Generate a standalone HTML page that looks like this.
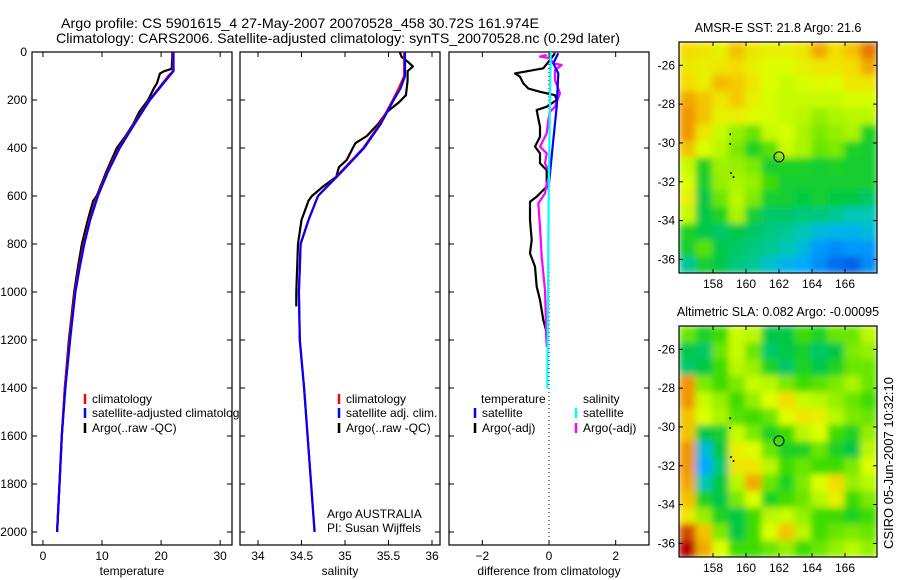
<!DOCTYPE html>
<html><head><meta charset="utf-8"><style>
body{margin:0;background:#fff}
svg{display:block;font-family:"Liberation Sans",sans-serif}
text{fill:#000}
</style></head><body>
<svg id="fig" width="900" height="580" viewBox="0 0 900 580" xmlns="http://www.w3.org/2000/svg">
<defs>
<filter id="smooth" x="0" y="0" width="1" height="1"><feGaussianBlur stdDeviation="3.5" edgeMode="duplicate"/></filter>
<clipPath id="clipSst"><rect x="679" y="42" width="198" height="231"/></clipPath>
<clipPath id="clipSla"><rect x="679" y="326" width="198" height="231"/></clipPath>
</defs>
<text x="61" y="28" font-size="14" textLength="478" lengthAdjust="spacingAndGlyphs">Argo profile: CS 5901615_4 27-May-2007 20070528_458 30.72S 161.974E</text>
<text x="56" y="43" font-size="14" textLength="564" lengthAdjust="spacingAndGlyphs">Climatology: CARS2006. Satellite-adjusted climatology: synTS_20070528.nc (0.29d later)</text>
<g id="plots"></g>
<text transform="translate(893,463) rotate(-90)" font-size="13" text-anchor="middle">CSIRO 05-Jun-2007 10:32:10</text>
</svg>
<script>
// ---------- data ----------
const depthTicks=[0,200,400,600,800,1000,1200,1400,1600,1800,2000];
const tempTicks=[0,10,20,30];
const salTicks=[34,34.5,35,35.5,36];
const diffTicks=[-2,0,2];
const argoTempDepth=[0,20,70,80,90,130,150,200,250,300,350,400,500,600,620,700,800,900,1000,1200,1400,1600,1800,2000];
const argoTemp=[21.9,21.9,21.8,20.5,19.8,19.3,18.8,17.8,16.3,15.3,14.0,12.5,10.7,9.1,8.5,7.6,6.6,5.9,5.3,4.4,3.7,3.2,2.8,2.4];
const climDepth=[0,80,100,200,300,400,500,600,700,800,900,1000,1200,1400,1600,1800,2000];
const climTemp=[22,22,21.2,18,15.4,12.9,10.9,9.2,7.9,6.9,6.1,5.4,4.5,3.7,3.2,2.8,2.4];
const satTemp=[22.1,22.1,21.4,18.1,15.5,13.0,11.0,9.3,8.0,7.0,6.2,5.5,4.6,3.8,3.2,2.8,2.4];
const argoSalDepth=[0,20,40,60,80,120,180,210,250,300,350,380,400,450,480,520,560,600,620,700,800,1000,1060];
const argoSal=[35.63,35.65,35.72,35.78,35.72,35.72,35.7,35.62,35.48,35.38,35.25,35.12,35.09,35.02,34.93,34.9,34.75,34.62,34.58,34.5,34.46,34.44,34.44];
const climSal=[35.68,35.68,35.62,35.55,35.4,35.21,34.95,34.69,34.58,34.49,34.48,34.47,34.48,34.53,34.57,34.61,34.65];
const satSal=[35.69,35.69,35.64,35.56,35.41,35.22,34.96,34.69,34.58,34.49,34.48,34.47,34.48,34.53,34.57,34.61,34.65];
const climSalDepth=[0,100,150,200,300,400,500,600,700,800,900,1000,1200,1400,1600,1800,2000];
const dTempArgoDepth=[5,33,68,89,103,131,152,166,180,200,228,242,277,311,353,394,422,464,492,561,603,624,700,783,839,894,978,1033,1117,1158,1214];
const dTempArgo=[0.18,0.03,-0.17,-1.02,-0.87,-0.77,-0.62,-0.27,0.18,0.23,-0.07,-0.37,-0.32,-0.27,-0.27,-0.42,-0.27,-0.27,-0.07,-0.07,-0.37,-0.57,-0.57,-0.52,-0.57,-0.42,-0.37,-0.27,-0.17,-0.09,-0.07];
const dSalArgoDepth=[12,19,26,47,54,75,117,172,228,249,283,339,394,422,464,506,547,589,631,728,853,992,1131,1228];
const dSalArgo=[-0.07,-0.27,0.03,0.13,0.38,0.18,0.18,0.33,0.18,0.03,-0.02,-0.07,-0.27,-0.07,-0.12,0.03,-0.07,-0.12,-0.32,-0.27,-0.22,-0.12,-0.09,-0.07];
const dTempSatDepth=[5,47,89,228,367,506,575];
const dTempSat=[0.28,0.13,0.28,0.23,0.13,0.03,-0.02];
const dSalSatDepth=[0,200,600,1000,1400];
const dSalSat=[0.05,0.03,-0.01,-0.03,-0.05];
const mapLonTicks=[158,160,162,164,166];
const mapLatTicks=[-26,-28,-30,-32,-34,-36];
const sstGrid=[
[0.82,0.8,0.78,0.85,0.8,0.78,0.78,0.8,0.88,0.82,0.85,0.92],
[0.8,0.78,0.8,0.82,0.78,0.75,0.75,0.78,0.8,0.8,0.82,0.88],
[0.82,0.78,0.86,0.84,0.8,0.75,0.72,0.74,0.76,0.75,0.8,0.8],
[0.88,0.85,0.8,0.84,0.78,0.74,0.72,0.72,0.72,0.72,0.74,0.74],
[0.9,0.85,0.78,0.78,0.76,0.74,0.72,0.7,0.65,0.68,0.7,0.7],
[0.9,0.8,0.72,0.65,0.6,0.72,0.74,0.68,0.62,0.65,0.68,0.5],
[0.85,0.75,0.7,0.62,0.5,0.58,0.72,0.68,0.6,0.62,0.5,0.48],
[0.72,0.5,0.66,0.65,0.62,0.48,0.5,0.5,0.48,0.5,0.48,0.48],
[0.75,0.48,0.65,0.68,0.65,0.55,0.48,0.48,0.48,0.48,0.48,0.48],
[0.78,0.45,0.6,0.7,0.62,0.48,0.48,0.46,0.48,0.46,0.45,0.42],
[0.72,0.45,0.5,0.68,0.48,0.42,0.42,0.4,0.4,0.38,0.35,0.35],
[0.5,0.45,0.42,0.45,0.42,0.4,0.38,0.35,0.3,0.28,0.28,0.3],
[0.48,0.58,0.45,0.42,0.4,0.38,0.35,0.3,0.22,0.2,0.22,0.22],
[0.38,0.48,0.45,0.4,0.38,0.32,0.28,0.25,0.2,0.15,0.12,0.2]];
const slaGrid=[
[0.6,0.5,0.55,0.72,0.7,0.45,0.45,0.55,0.5,0.6,0.6,0.7],
[0.45,0.42,0.6,0.72,0.6,0.42,0.45,0.48,0.42,0.45,0.62,0.65],
[0.42,0.45,0.55,0.7,0.65,0.5,0.42,0.5,0.45,0.5,0.6,0.6],
[0.9,0.62,0.55,0.62,0.72,0.7,0.62,0.55,0.58,0.62,0.68,0.6],
[0.9,0.72,0.65,0.55,0.65,0.75,0.82,0.72,0.7,0.65,0.6,0.55],
[0.85,0.75,0.68,0.58,0.55,0.6,0.75,0.8,0.78,0.7,0.62,0.6],
[0.85,0.45,0.48,0.72,0.62,0.5,0.55,0.7,0.75,0.55,0.5,0.65],
[0.9,0.3,0.45,0.78,0.75,0.6,0.5,0.5,0.6,0.5,0.45,0.7],
[0.9,0.25,0.4,0.8,0.8,0.7,0.55,0.6,0.55,0.55,0.62,0.75],
[0.88,0.35,0.45,0.7,0.88,0.6,0.5,0.62,0.75,0.82,0.65,0.7],
[0.85,0.5,0.45,0.62,0.75,0.5,0.55,0.6,0.7,0.78,0.55,0.62],
[0.8,0.65,0.5,0.45,0.55,0.7,0.72,0.65,0.55,0.55,0.5,0.55],
[0.95,0.85,0.62,0.45,0.55,0.75,0.85,0.7,0.55,0.6,0.62,0.6],
[1.0,0.88,0.75,0.55,0.55,0.6,0.65,0.55,0.6,0.65,0.7,0.65]];
const floatLon=162, floatLat=-30.72;

// ---------- helpers ----------
const NS='http://www.w3.org/2000/svg';
const root=document.getElementById('plots');
function mk(tag,attrs,parent){const e=document.createElementNS(NS,tag);for(const k in attrs)e.setAttribute(k,attrs[k]);(parent||root).appendChild(e);return e;}
function txt(x,y,s,size,anchor,parent){const t=mk('text',{x:x,y:y,'font-size':size,'text-anchor':anchor||'start'},parent);t.textContent=s;return t;}
const Y0=52,Y1=545;const yScale=d=>52+d*0.24;

function panel(name,x0,x1,vmin,vmax,ticks,xlabel,showY){
  const g=mk('g',{});
  
  
  const xs=v=>x0+(v-vmin)/(vmax-vmin)*(x1-x0);
  const fr=mk('rect',{x:x0,y:Y0,width:x1-x0,height:Y1-Y0,fill:'#fff',stroke:'#000','stroke-width':1.2},g);
  
  
  ticks.forEach(v=>{const x=xs(v);
    mk('line',{x1:x,x2:x,y1:Y1,y2:Y1-5,stroke:'#000'},g);mk('line',{x1:x,x2:x,y1:Y0,y2:Y0+5,stroke:'#000'},g);
    const t=txt(x,560,String(v).replace('-','\u2212'),12,'middle',g);
    
    });
  depthTicks.forEach(d=>{const y=yScale(d);
    mk('line',{x1:x0,x2:x0+5,y1:y,y2:y,stroke:'#000'},g);mk('line',{x1:x1,x2:x1-5,y1:y,y2:y,stroke:'#000'},g);
    if(showY){const t=txt(27,y+4,String(d),12,'end',g);
      
      }});
  const xl=txt((x0+x1)/2,575,xlabel,12,'middle',g);
  
  
  return {g,xs};
}
function line(p,depths,vals,color,name,w){
  const pts=depths.map((d,i)=>p.xs(vals[i]).toFixed(1)+','+yScale(d).toFixed(1)).join(' ');
  const l=mk('polyline',{points:pts,fill:'none',stroke:color,'stroke-width':w||2.2,'stroke-linejoin':'round'},p.g);
  
  
}
function legend(g,x,y,color,label,name){
  mk('line',{x1:x,x2:x,y1:y-9,y2:y+1,stroke:color,'stroke-width':2.5},g);
  const t=txt(x+7,y,label,12,'start',g);
  
  
}

// ---------- temperature panel ----------
const p1=panel('temperature-panel',32,232,-1.85,32.0,tempTicks,'temperature',true);
line(p1,argoTempDepth,argoTemp,'#000','argo-temperature-line');
line(p1,climDepth,climTemp,'#f00','climatology-temperature-line');
line(p1,climDepth,satTemp,'#00f','satellite-temperature-line');
legend(p1.g,85,403,'#f00','climatology','legend-climatology');
legend(p1.g,85,417,'#00f','satellite-adjusted climatology','legend-satellite');
legend(p1.g,85,432,'#000','Argo(..raw -QC)','legend-argo');

// ---------- salinity panel ----------
const p2=panel('salinity-panel',240,440,33.793,36.092,salTicks,'salinity',false);
line(p2,argoSalDepth,argoSal,'#000','argo-salinity-line');
line(p2,climSalDepth,climSal,'#f00','climatology-salinity-line');
line(p2,climSalDepth,satSal,'#00f','satellite-salinity-line');
legend(p2.g,339,403,'#f00','climatology','legend-climatology');
legend(p2.g,339,417,'#00f','satellite adj. clim.','legend-satellite');
legend(p2.g,339,432,'#000','Argo(..raw -QC)','legend-argo');
const a1=txt(327,518,'Argo AUSTRALIA',12,'start',p2.g);


const a2=txt(327,532,'PI: Susan Wijffels',12,'start',p2.g);



// ---------- difference panel ----------
const p3=panel('difference-panel',449,649,-3.0,3.0,diffTicks,'difference from climatology',false);
mk('line',{x1:p3.xs(0),x2:p3.xs(0),y1:Y0,y2:Y1,stroke:'#000','stroke-dasharray':'1,3'},p3.g);
line(p3,dTempArgoDepth,dTempArgo,'#000','argo-temperature-diff-line');
line(p3,dSalArgoDepth,dSalArgo,'#f0f','argo-salinity-diff-line');
line(p3,dTempSatDepth,dTempSat,'#00f','satellite-temperature-diff-line');
line(p3,dSalSatDepth,dSalSat,'#0ff','satellite-salinity-diff-line');
const lt=txt(481,403,'temperature',12,'start',p3.g);


const ls=txt(583,403,'salinity',12,'start',p3.g);


legend(p3.g,475,417,'#00f','satellite','legend-temp-satellite');
legend(p3.g,475,432,'#000','Argo(-adj)','legend-temp-argo');
legend(p3.g,576,417,'#0ff','satellite','legend-sal-satellite');
legend(p3.g,576,432,'#f0f','Argo(-adj)','legend-sal-argo');

// ---------- maps ----------
const cmapStops=[[0,[0,50,200]],[0.15,[0,110,240]],[0.25,[0,170,255]],[0.35,[0,200,180]],[0.45,[0,200,70]],[0.55,[60,220,0]],[0.65,[150,240,0]],[0.75,[220,255,0]],[0.82,[245,220,0]],[0.9,[240,150,0]],[1,[180,0,0]]];
function cmap(v){for(let i=1;i<cmapStops.length;i++){if(v<=cmapStops[i][0]){const a=cmapStops[i-1],b=cmapStops[i];const t=(v-a[0])/(b[0]-a[0]);const c=a[1].map((q,k)=>Math.round(q+(b[1][k]-q)*t));return 'rgb('+c.join(',')+')';}}return 'rgb(180,0,0)';}
function map(name,x0,x1,y0,y1,latTop,latBot,grid,title,titleY,clipId){
  const g=mk('g',{});
  
  
  const lonL=155.94,lonR=167.94;
  const xs=l=>x0+(l-lonL)/(lonR-lonL)*(x1-x0);
  const ys=la=>y0+(latTop-la)/(latTop-latBot)*(y1-y0);
  const rows=grid.length,cols=grid[0].length;
  const dLon=(lonR-lonL)/cols,dLat=(latTop-latBot)/rows;
  const clipG=mk('g',{'clip-path':'url(#'+clipId+')'},g);
  const cells=mk('g',{filter:'url(#smooth)'},clipG);
  grid.forEach((row,r)=>row.forEach((v,c)=>{
    const xa=xs(lonL+c*dLon),xb=xs(lonL+(c+1)*dLon),ya=ys(latTop-r*dLat),yb=ys(latTop-(r+1)*dLat);
    const cell=mk('rect',{x:xa.toFixed(2),y:ya.toFixed(2),width:(xb-xa+0.6).toFixed(2),height:(yb-ya+0.6).toFixed(2),fill:cmap(v)},cells);
    
    
  }));
  const fr=mk('rect',{x:x0,y:y0,width:x1-x0,height:y1-y0,fill:'none',stroke:'#000','stroke-width':1.2},g);
  
  
  mapLonTicks.forEach(l=>{const x=xs(l);mk('line',{x1:x,x2:x,y1:y1,y2:y1-4,stroke:'#000'},g);mk('line',{x1:x,x2:x,y1:y0,y2:y0+4,stroke:'#000'},g);
    const t=txt(x,y1+15,String(l),12,'middle',g);
    
    });
  mapLatTicks.forEach(la=>{const y=ys(la);mk('line',{x1:x0,x2:x0+4,y1:y,y2:y,stroke:'#000'},g);mk('line',{x1:x1,x2:x1-4,y1:y,y2:y,stroke:'#000'},g);
    const t=txt(x0-4,y+4,String(la),12,'end',g);
    
    });
  [[159,-29.5],[159,-30],[159.05,-31.5],[159.2,-31.7]].forEach(p=>mk('rect',{x:xs(p[0]),y:ys(p[1]),width:1.5,height:2,fill:'#000'},g));
  const c=mk('circle',{cx:xs(floatLon),cy:ys(floatLat),r:5,fill:'none',stroke:'#000','stroke-width':1},g);
  
  
  const t=txt((x0+x1)/2,titleY,title,12.5,'middle',g);
  
  
}
map('sst-map',679,877,42,273,-24.8,-36.7,sstGrid,'AMSR-E SST: 21.8 Argo: 21.6',32,'clipSst');
map('sla-map',679,877,326,557,-24.8,-36.7,slaGrid,'Altimetric SLA: 0.082 Argo: -0.00095',316,'clipSla');
</script>
</body></html>
